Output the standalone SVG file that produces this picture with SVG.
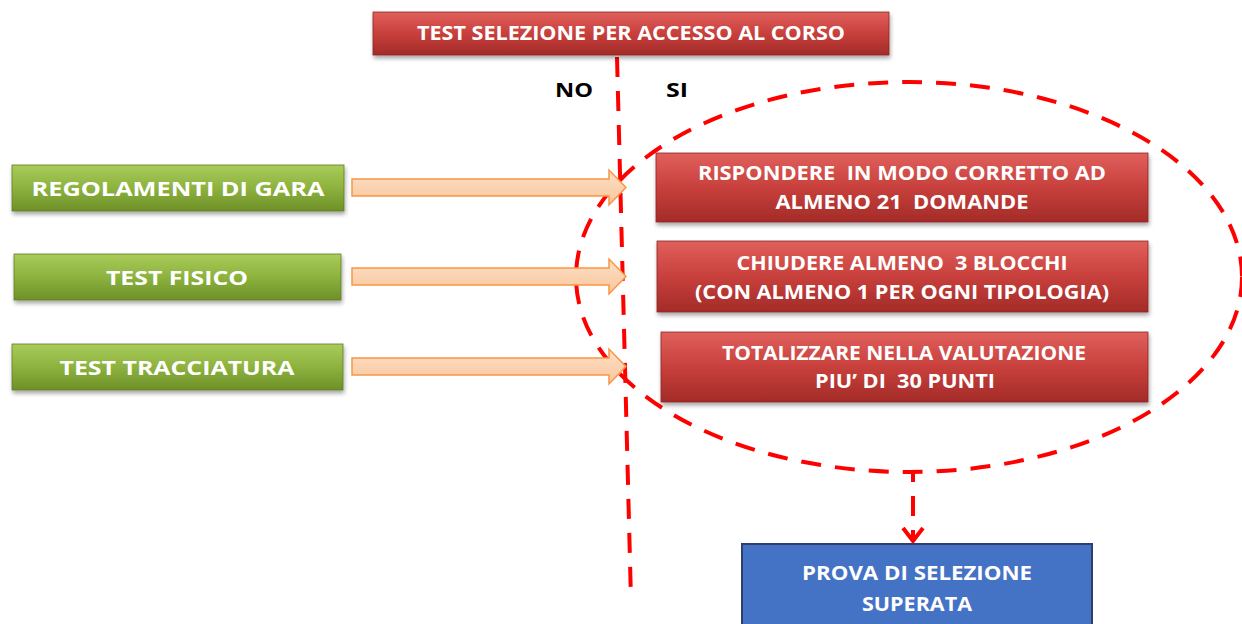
<svg xmlns="http://www.w3.org/2000/svg" width="1242" height="624" viewBox="0 0 1242 624">
<defs>
<linearGradient id="gRed" x1="0" y1="0" x2="0" y2="1">
<stop offset="0" stop-color="#E0605C"/><stop offset="0.5" stop-color="#C8403C"/><stop offset="1" stop-color="#A32B28"/>
</linearGradient>
<linearGradient id="gGreen" x1="0" y1="0" x2="0" y2="1">
<stop offset="0" stop-color="#A9CC5A"/><stop offset="0.5" stop-color="#8DB23E"/><stop offset="1" stop-color="#6E9028"/>
</linearGradient>
<linearGradient id="gOrange" x1="0" y1="0" x2="0" y2="1">
<stop offset="0" stop-color="#FCE0C8"/><stop offset="1" stop-color="#F9C69A"/>
</linearGradient>
<filter id="sh" x="-5%" y="-20%" width="110%" height="150%">
<feDropShadow dx="1" dy="3" stdDeviation="2" flood-color="#000" flood-opacity="0.35"/>
</filter>
</defs>
<style>
.red{fill:url(#gRed);stroke:#8E2522;stroke-width:0.8;filter:url(#sh)}
.green{fill:url(#gGreen);stroke:#5F7D22;stroke-width:0.8;filter:url(#sh)}
.arr{fill:url(#gOrange);stroke:#F79646;stroke-width:1.5}
.blue{fill:#4472C4;stroke:#2F3F6B;stroke-width:2}
.t{font-family:"Open Sans","Liberation Sans",sans-serif;font-weight:bold;fill:#FFFFFF;text-anchor:middle;font-size:20px;white-space:pre}
.k{font-family:"Open Sans","Liberation Sans",sans-serif;font-weight:bold;fill:#000000;text-anchor:middle;font-size:20px}
.dash{fill:none;stroke:#FF0000;stroke-width:4;stroke-dasharray:20 14}
.head{fill:none;stroke:#FF0000;stroke-width:4;stroke-linejoin:miter}
</style>

<g id="connectors">
<path class="dash" d="M617,57 L631,600" stroke-dasharray="20 14.87"/>
<ellipse class="dash" cx="909" cy="277" rx="333" ry="195" stroke-dasharray="20 12"/>
<path class="dash" d="M903,472 L913,472 L913,538" stroke-dasharray="12 8"/>
<polyline class="head" points="903,528 913,541 923,528"/>
<path class="arr" d="M352,179 L609,179 L609,170 L626,187.5 L609,205 L609,196 L352,196 Z"/>
<path class="arr" d="M352,268 L609,268 L609,259 L626,276.5 L609,294 L609,285 L352,285 Z"/>
<path class="arr" d="M352,358 L609,358 L609,349 L626,366.5 L609,384 L609,375 L352,375 Z"/>
</g>

<g id="node-top">
<rect class="red" x="373" y="12" width="516" height="43"/>
<text class="t" x="631" y="40" textLength="428" lengthAdjust="spacingAndGlyphs">TEST SELEZIONE PER ACCESSO AL CORSO</text>
</g>

<g id="label-no"><text class="k" x="574" y="97" textLength="38" lengthAdjust="spacingAndGlyphs">NO</text></g>
<g id="label-si"><text class="k" x="677" y="97" textLength="22" lengthAdjust="spacingAndGlyphs">SI</text></g>

<g id="node-regolamenti">
<rect class="green" x="12" y="165" width="332" height="46"/>
<text class="t" x="178" y="196" font-size="21" textLength="293" lengthAdjust="spacingAndGlyphs">REGOLAMENTI DI GARA</text>
</g>
<g id="node-fisico">
<rect class="green" x="14" y="254" width="327" height="46"/>
<text class="t" x="177" y="285" font-size="21" textLength="142" lengthAdjust="spacingAndGlyphs">TEST FISICO</text>
</g>
<g id="node-tracciatura">
<rect class="green" x="12" y="344" width="331" height="46"/>
<text class="t" x="177" y="375" font-size="21" textLength="235" lengthAdjust="spacingAndGlyphs">TEST TRACCIATURA</text>
</g>

<g id="node-rispondere">
<rect class="red" x="656" y="153" width="492" height="69"/>
<text class="t" x="902" y="180" textLength="408" lengthAdjust="spacingAndGlyphs" xml:space="preserve">RISPONDERE  IN MODO CORRETTO AD</text>
<text class="t" x="902" y="209" textLength="253" lengthAdjust="spacingAndGlyphs" xml:space="preserve">ALMENO 21  DOMANDE</text>
</g>
<g id="node-chiudere">
<rect class="red" x="657" y="241" width="491" height="71"/>
<text class="t" x="902" y="270" textLength="331" lengthAdjust="spacingAndGlyphs" xml:space="preserve">CHIUDERE ALMENO  3 BLOCCHI</text>
<text class="t" x="902" y="299" textLength="414" lengthAdjust="spacingAndGlyphs">(CON ALMENO 1 PER OGNI TIPOLOGIA)</text>
</g>
<g id="node-totalizzare">
<rect class="red" x="661" y="332" width="487" height="70"/>
<text class="t" x="904" y="360" textLength="364" lengthAdjust="spacingAndGlyphs">TOTALIZZARE NELLA VALUTAZIONE</text>
<text class="t" x="905" y="388" textLength="180" lengthAdjust="spacingAndGlyphs" xml:space="preserve">PIU’ DI  30 PUNTI</text>
</g>

<g id="node-prova">
<rect class="blue" x="742" y="544" width="350" height="90"/>
<text class="t" x="917" y="580" textLength="230" lengthAdjust="spacingAndGlyphs">PROVA DI SELEZIONE</text>
<text class="t" x="917" y="611" textLength="110" lengthAdjust="spacingAndGlyphs">SUPERATA</text>
</g>
</svg>
